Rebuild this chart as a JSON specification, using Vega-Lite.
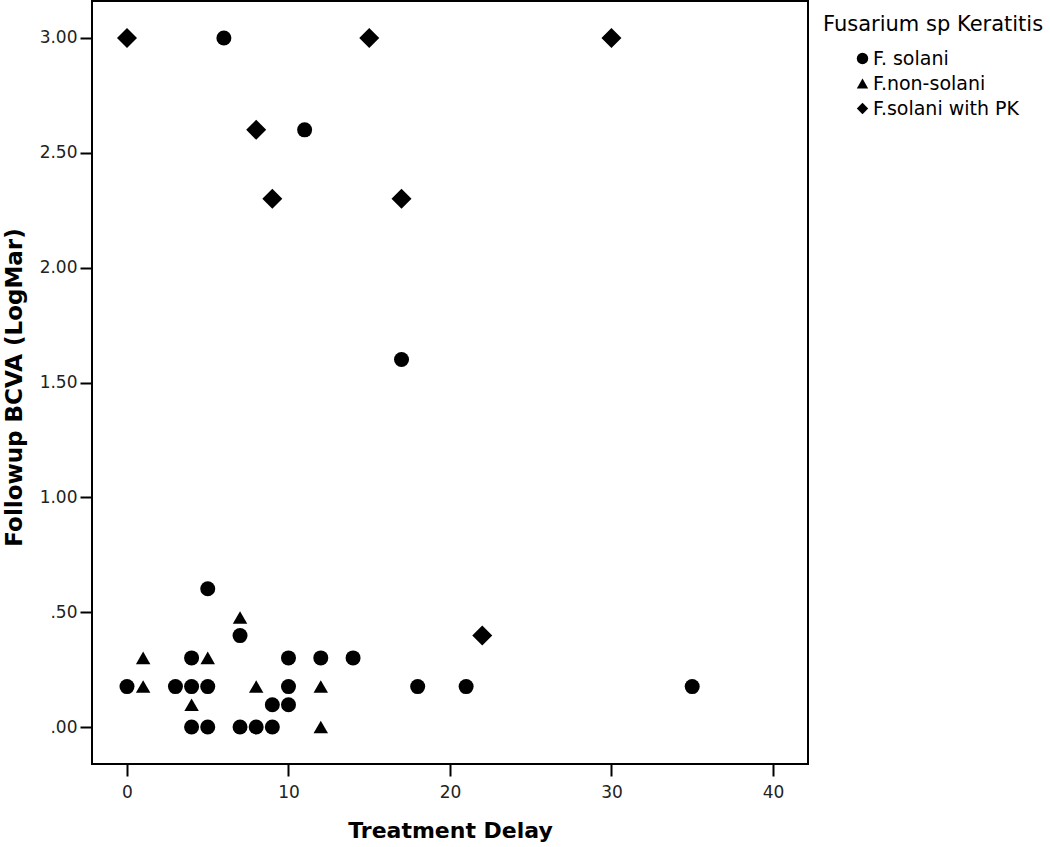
{
  "$schema": "https://vega.github.io/schema/vega-lite/v6.json",
  "width": 716,
  "height": 763,
  "autosize": {"type": "none"},
  "padding": {"left": 92, "top": 1, "right": 242, "bottom": 83},
  "background": "white",
  "config": {
    "view": {"stroke": "black", "strokeWidth": 2},
    "font": "DejaVu Sans",
    "axis": {
      "grid": false,
      "domain": false,
      "tickColor": "black",
      "tickWidth": 2,
      "tickSize": 12,
      "labelFont": "DejaVu Sans",
      "labelFontSize": 17,
      "labelColor": "#222222",
      "titleFont": "DejaVu Sans",
      "titleFontSize": 22,
      "titleFontWeight": "bold",
      "titleColor": "black"
    },
    "legend": {
      "titleFont": "DejaVu Sans",
      "titleFontSize": 21,
      "titleFontWeight": "normal",
      "titleColor": "black",
      "titleLimit": 400,
      "labelFont": "DejaVu Sans",
      "labelFontSize": 19,
      "labelColor": "black",
      "labelLimit": 300,
      "symbolSize": 130,
      "symbolStrokeWidth": 0,
      "symbolFillColor": "black",
      "padding": 0
    }
  },
  "data": {
    "values": [
      {"delay": 0, "bcva": 0.176, "group": "F. solani"},
      {"delay": 3, "bcva": 0.176, "group": "F. solani"},
      {"delay": 4, "bcva": 0.176, "group": "F. solani"},
      {"delay": 5, "bcva": 0.176, "group": "F. solani"},
      {"delay": 10, "bcva": 0.176, "group": "F. solani"},
      {"delay": 18, "bcva": 0.176, "group": "F. solani"},
      {"delay": 21, "bcva": 0.176, "group": "F. solani"},
      {"delay": 35, "bcva": 0.176, "group": "F. solani"},
      {"delay": 4, "bcva": 0.301, "group": "F. solani"},
      {"delay": 10, "bcva": 0.301, "group": "F. solani"},
      {"delay": 12, "bcva": 0.301, "group": "F. solani"},
      {"delay": 14, "bcva": 0.301, "group": "F. solani"},
      {"delay": 9, "bcva": 0.097, "group": "F. solani"},
      {"delay": 10, "bcva": 0.097, "group": "F. solani"},
      {"delay": 4, "bcva": 0, "group": "F. solani"},
      {"delay": 5, "bcva": 0, "group": "F. solani"},
      {"delay": 7, "bcva": 0, "group": "F. solani"},
      {"delay": 8, "bcva": 0, "group": "F. solani"},
      {"delay": 9, "bcva": 0, "group": "F. solani"},
      {"delay": 7, "bcva": 0.398, "group": "F. solani"},
      {"delay": 5, "bcva": 0.602, "group": "F. solani"},
      {"delay": 6, "bcva": 3.0, "group": "F. solani"},
      {"delay": 11, "bcva": 2.6, "group": "F. solani"},
      {"delay": 17, "bcva": 1.6, "group": "F. solani"},
      {"delay": 1, "bcva": 0.301, "group": "F.non-solani"},
      {"delay": 5, "bcva": 0.301, "group": "F.non-solani"},
      {"delay": 1, "bcva": 0.176, "group": "F.non-solani"},
      {"delay": 8, "bcva": 0.176, "group": "F.non-solani"},
      {"delay": 12, "bcva": 0.176, "group": "F.non-solani"},
      {"delay": 4, "bcva": 0.097, "group": "F.non-solani"},
      {"delay": 7, "bcva": 0.477, "group": "F.non-solani"},
      {"delay": 12, "bcva": 0, "group": "F.non-solani"},
      {"delay": 0, "bcva": 3.0, "group": "F.solani with PK"},
      {"delay": 15, "bcva": 3.0, "group": "F.solani with PK"},
      {"delay": 30, "bcva": 3.0, "group": "F.solani with PK"},
      {"delay": 8, "bcva": 2.6, "group": "F.solani with PK"},
      {"delay": 9, "bcva": 2.3, "group": "F.solani with PK"},
      {"delay": 17, "bcva": 2.3, "group": "F.solani with PK"},
      {"delay": 22, "bcva": 0.398, "group": "F.solani with PK"}
    ]
  },
  "mark": {"type": "point", "filled": true, "color": "black", "opacity": 1},
  "encoding": {
    "x": {
      "field": "delay",
      "type": "quantitative",
      "title": "Treatment Delay",
      "scale": {"domain": [-2.167, 42.17], "nice": false, "zero": false},
      "axis": {"values": [0, 10, 20, 30, 40], "labelPadding": 8, "titleY": 73, "titleBaseline": "alphabetic"}
    },
    "y": {
      "field": "bcva",
      "type": "quantitative",
      "title": "Followup BCVA (LogMar)",
      "scale": {"domain": [-0.161, 3.161], "nice": false, "zero": false},
      "axis": {
        "values": [0, 0.5, 1, 1.5, 2, 2.5, 3],
        "labelExpr": "datum.value < 1 ? replace(format(datum.value, '.2f'), '0.', '.') : format(datum.value, '.2f')",
        "labelPadding": 3,
        "titleFontSize": 23,
        "titleX": -71,
        "titleY": 386,
        "titleBaseline": "alphabetic"
      }
    },
    "shape": {
      "field": "group",
      "type": "nominal",
      "scale": {
        "domain": ["F. solani", "F.non-solani", "F.solani with PK"],
        "range": ["circle", "triangle-up", "diamond"]
      },
      "legend": {
        "title": "Fusarium sp Keratitis",
        "orient": "none",
        "legendX": 731,
        "legendY": 13,
        "titleBaseline": "top",
        "titlePadding": 14,
        "rowPadding": 5,
        "symbolOffset": 30,
        "labelOffset": 1
      }
    },
    "size": {
      "condition": [
        {"test": "datum.group === 'F.solani with PK'", "value": 400},
        {"test": "datum.group === 'F.non-solani'", "value": 210}
      ],
      "value": 225
    }
  }
}
